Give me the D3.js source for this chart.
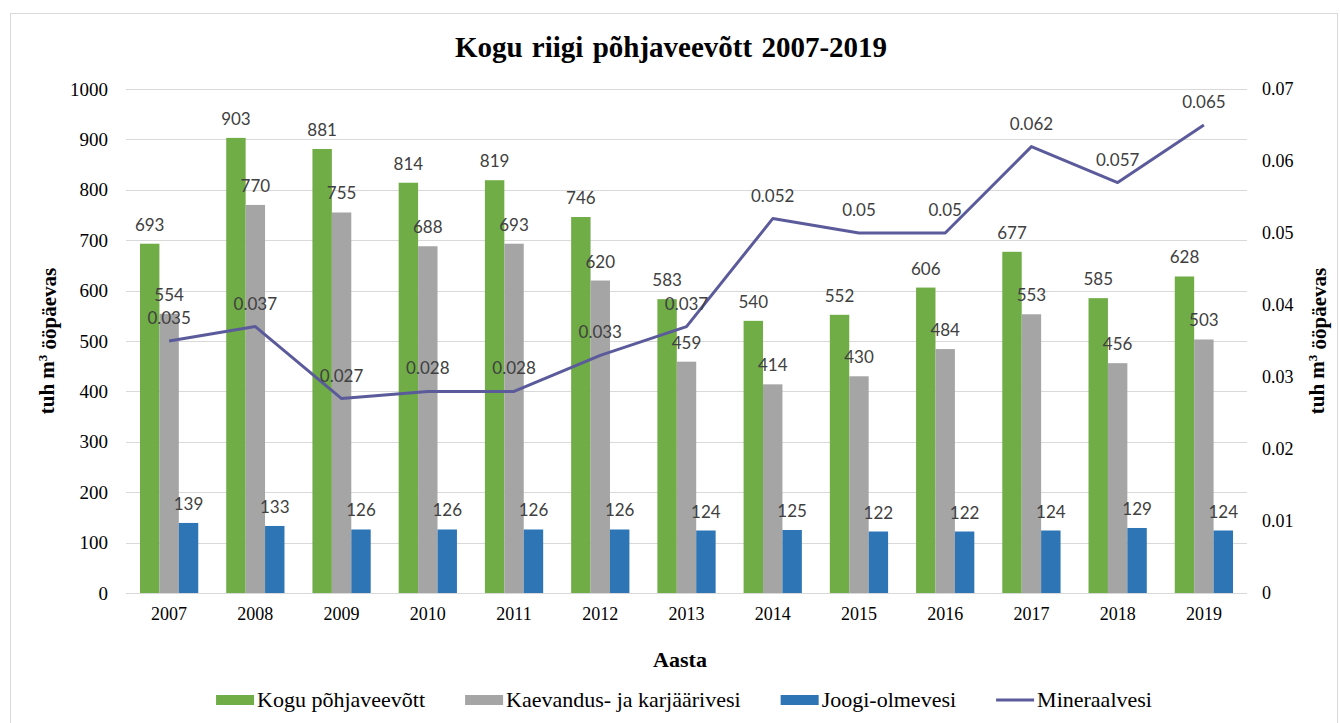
<!DOCTYPE html>
<html>
<head>
<meta charset="utf-8">
<script src="https://cdn.jsdelivr.net/npm/d3@7"></script>
<style>
  body { margin: 0; background: #fff; }
  .lbl { font-family: Lato, "Open Sans", sans-serif; font-size: 17px; fill: #404040; }
</style>
</head>
<body>
<div id="chart"></div>
<script>
// data
const years = ['2007','2008','2009','2010','2011','2012','2013','2014','2015','2016','2017','2018','2019'];
const kogu = [693, 903, 881, 814, 819, 746, 583, 540, 552, 606, 677, 585, 628];
const kaevandus = [554, 770, 755, 688, 693, 620, 459, 414, 430, 484, 553, 456, 503];
const joogi = [139, 133, 126, 126, 126, 126, 124, 125, 122, 122, 124, 129, 124];
const mineraal = [0.035, 0.037, 0.027, 0.028, 0.028, 0.033, 0.037, 0.052, 0.05, 0.05, 0.062, 0.057, 0.065];
const leftTicks = [0, 100, 200, 300, 400, 500, 600, 700, 800, 900, 1000];
const rightTicks = [0, 0.01, 0.02, 0.03, 0.04, 0.05, 0.06, 0.07];
const barNames = ['Kogu põhjaveevõtt', 'Kaevandus- ja karjäärivesi', 'Joogi-olmevesi'];
const lineName = 'Mineraalvesi';

const barColors = ['#70ad47', '#a5a5a5', '#2e75b6'];
const lineColor = '#5b5b9c';
const gridColor = '#d9d9d9';
const serif = '"Liberation Serif", "Times New Roman", serif';

const width = 1340, height = 723;
// plot area in px
const plot = {top: 89, bottom: 593, left: 126, right: 1247};

const svg = d3.select('#chart').append('svg')
    .attr('width', width)
    .attr('height', height);

// outer frame of the chart object
svg.append('rect')
    .attr('x', 10.5).attr('y', 13.5)
    .attr('width', 1327).attr('height', 730)
    .attr('fill', '#fff')
    .attr('stroke', gridColor);

// scales
const x = d3.scaleBand().domain(years).range([plot.left, plot.right]);
const xSub = d3.scaleBand().domain(d3.range(3)).range([0, x.bandwidth()]).paddingOuter(0.72);
const y = d3.scaleLinear().domain([0, 1000]).range([plot.bottom, plot.top]);
const y2 = d3.scaleLinear().domain([0, 0.07]).range([plot.bottom, plot.top]);

// gridlines
svg.append('g')
    .selectAll('line')
    .data(leftTicks)
    .join('line')
    .attr('x1', plot.left).attr('x2', plot.right)
    .attr('y1', d => Math.round(y(d)) + 0.5).attr('y2', d => Math.round(y(d)) + 0.5)
    .attr('stroke', gridColor);

function styleAxis(g, size) {
    g.select('.domain').remove();
    g.attr('font-family', serif).attr('font-size', size);
    g.selectAll('text').attr('fill', '#000');
}

// left axis
svg.append('g')
    .attr('transform', `translate(${plot.left - 18},0)`)
    .call(d3.axisLeft(y).tickValues(leftTicks).tickFormat(d3.format('d')).tickSize(0).tickPadding(0))
    .call(g => styleAxis(g, 19));

// right axis
svg.append('g')
    .attr('transform', `translate(${plot.right + 15},0)`)
    .call(d3.axisRight(y2).tickValues(rightTicks).tickFormat(d => String(+d.toFixed(2))).tickSize(0).tickPadding(0))
    .call(g => styleAxis(g, 18));

// bottom axis
svg.append('g')
    .attr('transform', `translate(0,${plot.bottom + 14})`)
    .call(d3.axisBottom(x).tickSize(0).tickPadding(0))
    .call(g => styleAxis(g, 18));

// bars
const series = [kogu, kaevandus, joogi];
const barG = svg.append('g');
series.forEach((vals, s) => {
    barG.selectAll(`rect.s${s}`)
        .data(vals)
        .join('rect')
        .attr('class', `s${s}`)
        .attr('x', (d, i) => x(years[i]) + xSub(s))
        .attr('width', xSub.bandwidth())
        .attr('y', d => y(d))
        .attr('height', d => y(0) - y(d))
        .attr('fill', barColors[s]);
});

// line
const cx = i => x(years[i]) + x.bandwidth() / 2;
svg.append('path')
    .datum(mineraal)
    .attr('d', d3.line().x((d, i) => cx(i)).y(d => y2(d)))
    .attr('fill', 'none')
    .attr('stroke', lineColor)
    .attr('stroke-width', 3)
    .attr('stroke-linejoin', 'round');

// bar value labels
series.forEach((vals, s) => {
    svg.append('g').selectAll('text')
        .data(vals)
        .join('text')
        .attr('class', 'lbl')
        .attr('text-anchor', 'middle')
        .attr('x', (d, i) => x(years[i]) + xSub(s) + xSub.bandwidth() / 2)
        .attr('y', d => y(d) - 13)
        .text(d => d);
});

// line value labels
svg.append('g').selectAll('text')
    .data(mineraal)
    .join('text')
    .attr('class', 'lbl')
    .attr('text-anchor', 'middle')
    .attr('x', (d, i) => cx(i))
    .attr('y', d => y2(d) - 17)
    .text(d => String(d));

// title
svg.append('text')
    .attr('font-family', serif)
    .attr('x', 671).attr('y', 57)
    .attr('text-anchor', 'middle')
    .attr('font-size', 29).attr('font-weight', 'bold')
    .attr('word-spacing', 2)
    .text('Kogu riigi põhjaveevõtt 2007-2019');

// axis titles
function axisTitle(cxPos) {
    const t = svg.append('text')
        .attr('font-family', serif)
        .attr('transform', `translate(${cxPos},${(plot.top + plot.bottom) / 2}) rotate(-90)`)
        .attr('text-anchor', 'middle')
        .attr('dy', '0.35em')
        .attr('font-size', 21).attr('font-weight', 'bold');
    t.append('tspan').text('tuh m');
    t.append('tspan').attr('font-size', 13).attr('dy', '-0.6em').text('3');
    t.append('tspan').attr('dy', '0.45em').text(' ööpäevas');
}
axisTitle(47);
axisTitle(1317);

svg.append('text')
    .attr('font-family', serif)
    .attr('x', 680).attr('y', 667)
    .attr('text-anchor', 'middle')
    .attr('font-size', 22).attr('font-weight', 'bold')
    .text('Aasta');

// legend, laid out from measured text widths and centred under the plot
const legend = svg.append('g');
const items = barNames.map((n, i) => ({name: n, color: barColors[i], line: false}))
    .concat([{name: lineName, color: lineColor, line: true}]);
const keyW = 38, keyGap = 3, itemGap = 40, legY = 700;
let pos = 0;
items.forEach(it => {
    const g = legend.append('g').attr('transform', `translate(${pos},0)`);
    if (it.line) {
        g.append('line').attr('x1', 0).attr('x2', keyW)
            .attr('y1', legY).attr('y2', legY)
            .attr('stroke', it.color).attr('stroke-width', 3);
    } else {
        g.append('rect').attr('x', 0).attr('y', legY - 5)
            .attr('width', keyW).attr('height', 10)
            .attr('fill', it.color);
    }
    const t = g.append('text')
        .attr('font-family', serif)
        .attr('x', keyW + keyGap).attr('y', legY + 7)
        .attr('font-size', 22)
        .text(it.name);
    pos += keyW + keyGap + t.node().getComputedTextLength() + itemGap;
});
const legW = pos - itemGap;
legend.attr('transform', `translate(${684 - legW / 2},0)`);
</script>
</body>
</html>
